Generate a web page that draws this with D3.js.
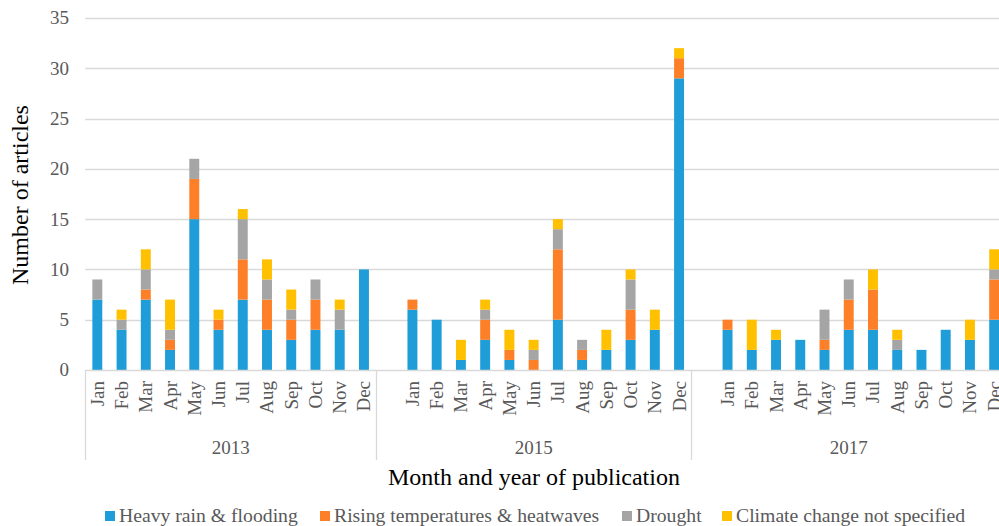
<!DOCTYPE html>
<html>
<head>
<meta charset="utf-8">
<script src="https://cdn.jsdelivr.net/npm/d3@7"></script>
<style>
  html, body { margin: 0; padding: 0; background: #fff; }
  svg { display: block; }
  text { font-family: "Liberation Serif", "Times New Roman", serif; }
</style>
</head>
<body>
<svg id="chart" width="999" height="526"></svg>
<script>
const years = ["2013", "2015", "2017"];
const months = ["Jan","Feb","Mar","Apr","May","Jun","Jul","Aug","Sep","Oct","Nov","Dec"];
const seriesNames = ["Heavy rain & flooding", "Rising temperatures & heatwaves", "Drought", "Climate change not specified"];
const seriesColors = ["#1F9DD9", "#FD7F27", "#A5A5A5", "#FFC000"];
// values per year, Jan..Dec
const heavyRain = [
  7,4,7,2,15,4,7,4,3,4,4,10,
  6,5,1,3,1,0,5,1,2,3,4,29,
  4,2,3,3,2,4,4,2,2,4,3,5
];
const risingTemp = [
  0,0,1,1,4,1,4,3,2,3,0,0,
  1,0,0,2,1,1,7,1,0,3,0,2,
  1,0,0,0,1,3,4,0,0,0,0,4
];
const drought = [
  2,1,2,1,2,0,4,2,1,2,2,0,
  0,0,0,1,0,1,2,1,0,3,0,0,
  0,0,0,0,3,2,0,1,0,0,0,1
];
const notSpecified = [
  0,1,2,3,0,1,1,2,2,0,1,0,
  0,0,2,1,2,1,1,0,2,1,2,1,
  0,3,1,0,0,0,2,1,0,0,2,2
];
const yTicks = [0,5,10,15,20,25,30,35];

(function () {
const slots = [];
years.forEach((yr, yi) => {
  if (yi > 0) slots.push({key: yr + "-blank", year: yr, month: "", blank: true});
  months.forEach((m, mi) => {
    const i = yi * 12 + mi;
    slots.push({key: yr + "-" + m, year: yr, month: m, blank: false,
      v0: heavyRain[i], v1: risingTemp[i], v2: drought[i], v3: notSpecified[i]});
  });
});

const svg = d3.select("#chart");
const pLeft = 85.2, pRight = 1006.3, pTop = 18, pBottom = 370;

const x = d3.scaleBand().domain(slots.map(d => d.key)).range([pLeft, pRight]).paddingInner(0.59).paddingOuter(0.295);
const y = d3.scaleLinear().domain([0, 35]).range([pBottom, pTop]);

svg.append("g").selectAll("line").data(yTicks.filter(t => t > 0)).join("line")
  .attr("x1", pLeft).attr("x2", 999)
  .attr("y1", d => Math.round(y(d)) + 0.5).attr("y2", d => Math.round(y(d)) + 0.5)
  .attr("stroke", "#D9D9D9").attr("stroke-width", 1.3);

svg.append("g").selectAll("text").data(yTicks).join("text")
  .attr("x", 69).attr("y", d => y(d)).attr("dy", "0.34em")
  .attr("text-anchor", "end").attr("font-size", 19).attr("fill", "#595959")
  .text(d => d);

const data = slots.filter(d => !d.blank);
const stack = d3.stack().keys(["v0","v1","v2","v3"]);
const stacked = stack(data);
svg.append("g").selectAll("g").data(stacked).join("g")
  .attr("fill", (d, i) => seriesColors[i])
  .selectAll("rect").data(d => d.filter(s => s[1] > s[0])).join("rect")
  .attr("x", d => x(d.data.key))
  .attr("width", x.bandwidth())
  .attr("y", d => y(d[1]))
  .attr("height", d => y(d[0]) - y(d[1]));

svg.append("line").attr("x1", pLeft).attr("x2", 999).attr("y1", pBottom + 0.5).attr("y2", pBottom + 0.5)
  .attr("stroke", "#D9D9D9").attr("stroke-width", 1.3);

const step = x.step();
const groupBounds = years.map((yr) => {
  const keys = slots.filter(s => s.year === yr).map(s => s.key);
  const start = x(keys[0]) - (x.paddingInner() * step) / 2;
  const end = x(keys[keys.length - 1]) + x.bandwidth() + (x.paddingInner() * step) / 2;
  return {yr, start, end};
});
groupBounds[0].start = pLeft;
const dividerXs = [pLeft].concat(groupBounds.slice(0, -1).map(g => g.end));
svg.append("g").selectAll("line").data(dividerXs).join("line")
  .attr("x1", d => Math.round(d) + 0.5).attr("x2", d => Math.round(d) + 0.5)
  .attr("y1", pBottom).attr("y2", 460)
  .attr("stroke", "#D9D9D9").attr("stroke-width", 1.3);

svg.append("g").selectAll("text").data(data).join("text")
  .attr("transform", d => `translate(${x(d.key) + x.bandwidth() / 2 + 6.5},381) rotate(-90)`)
  .attr("text-anchor", "end").attr("font-size", 19).attr("fill", "#595959")
  .text(d => d.month);

svg.append("g").selectAll("text").data(groupBounds).join("text")
  .attr("x", d => (d.start + d.end) / 2).attr("y", 454)
  .attr("text-anchor", "middle").attr("font-size", 19).attr("fill", "#595959")
  .text(d => d.yr);

svg.append("text").attr("x", 534).attr("y", 485).attr("text-anchor", "middle")
  .attr("font-size", 24).attr("fill", "#000").text("Month and year of publication");
svg.append("text").attr("transform", "translate(28,195) rotate(-90)").attr("text-anchor", "middle")
  .attr("font-size", 24).attr("fill", "#000").text("Number of articles");

const legendX = [105, 320, 622, 722];
const lg = svg.append("g").selectAll("g").data(seriesNames).join("g")
  .attr("transform", (d, i) => `translate(${legendX[i]},511)`);
lg.append("rect").attr("width", 10).attr("height", 10).attr("fill", (d, i) => seriesColors[i]);
lg.append("text").attr("x", 14).attr("y", 11).attr("font-size", 19.7).attr("fill", "#595959").text(d => d);
})();
</script>
</body>
</html>
